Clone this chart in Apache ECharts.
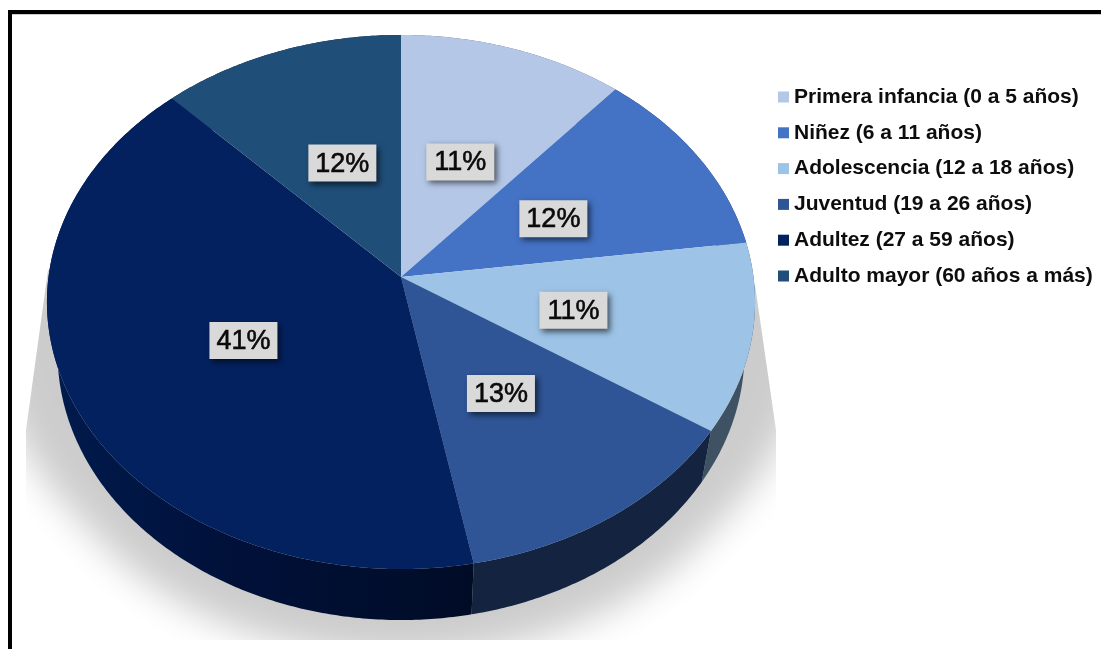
<!DOCTYPE html>
<html>
<head>
<meta charset="utf-8">
<style>html,body{margin:0;padding:0;background:#fff}#c{width:1101px;height:649px}</style>
<script src="https://cdn.jsdelivr.net/npm/echarts@6/dist/echarts.min.js"></script>
</head>
<body>
<div id="c"></div>
<script>
const categories = ['Primera infancia (0 a 5 años)','Niñez (6 a 11 años)','Adolescencia (12 a 18 años)','Juventud (19 a 26 años)','Adultez (27 a 59 años)','Adulto mayor (60 años a más)'];
const values = [11.3, 11.6, 11.4, 12.7, 40.8, 12.2];
const topColors = ['#B4C7E7','#4472C4','#9DC3E6','#2F5597','#03215F','#1F4E79'];
const sideColors = ['#5a6473','#22395f','#3F5263','#14233F','#000F2E','#0f2740'];

const total = values.reduce((a,b)=>a+b,0);
const CX=401, CY=277, A=352.5, B=264.7, P=0.0936, DEPTH=51, SHRINK=0.97;
const labelNudge = [[3,-1],[4,2],[-3,3],[-6,-3],[6,0],[2,-1]];
function proj(t, f, dy, sx){
  const w = 1 + P*Math.cos(t);
  return [CX + (sx||1)*f*A*Math.sin(t)/w, CY - f*B*Math.cos(t)/w + (dy||0)];
}
function arc(a,b,dy,sx){
  const n = Math.max(2,Math.ceil((b-a)/0.01)), pts=[];
  for(let i=0;i<=n;i++) pts.push(proj(a+(b-a)*i/n,1,dy,sx));
  return pts;
}
function startOf(i){ let s=0; for(let k=0;k<i;k++) s+=values[k]; return s/total*2*Math.PI; }

function renderSlice(i){
  return function(params, api){
    const a = startOf(i), b = a + api.value(0)/total*2*Math.PI, mid=(a+b)/2;
    const top = arc(a,b);
    const side = top.concat(arc(a,b,DEPTH,SHRINK).reverse());
    const lp0 = proj(mid,0.5), lp=[lp0[0]+labelNudge[i][0],lp0[1]+labelNudge[i][1]];
    const txt = Math.round(api.value(0))+'%';
    const children = [];
    let sideFill = sideColors[i];
    if(i===4) sideFill = {type:'linear',global:true,x:50,y:0,x2:480,y2:0,colorStops:[{offset:0,color:'#001B4D'},{offset:0.45,color:'#001038'},{offset:1,color:'#000C26'}]};
    children.push({type:'polygon',z2:1,shape:{points:side},style:{fill:sideFill}});
    children.push({type:'polygon',z2:2,shape:{points:[[CX,CY]].concat(top)},style:{fill:topColors[i]}});
    children.push({type:'rect',z2:3,shape:{x:lp[0]-34,y:lp[1]-18.5,width:68,height:37},
      style:{fill:'#D9D9D9',shadowBlur:6,shadowOffsetX:3,shadowOffsetY:3,shadowColor:'rgba(0,0,0,0.6)'}});
    children.push({type:'text',z2:4,x:lp[0],y:lp[1]+1,
      style:{text:txt,fill:'#0a0a0a',stroke:'#0a0a0a',lineWidth:0.6,font:'27px "Liberation Sans", Arial, sans-serif',align:'center',verticalAlign:'middle'}});
    return {type:'group',children};
  };
}
function renderShadow(){
  const OFF=3000, pts=[];
  for(let t=0;t<2*Math.PI;t+=0.01){
    const s = 1.03 + 0.2*Math.max(0,Math.cos(t)+0.6);
    const p = proj(t,1,88,s);
    pts.push([p[0]-OFF,p[1]]);
  }
  return {type:'polygon',z2:0,shape:{points:pts},
    style:{fill:'#000',shadowBlur:36,shadowOffsetX:OFF,shadowColor:'rgba(0,0,0,0.2)'},
    clipPath:{type:'polygon',shape:{points:[[48,270],[26,430],[26,640],[776,640],[776,430],[755,285]]}}};
}
const series = categories.map((n,i)=>({
  type:'custom',name:n,coordinateSystem:'none',silent:true,animation:false,
  itemStyle:{color:topColors[i]},data:[[values[i]]],renderItem:renderSlice(i)
}));
series.unshift({type:'custom',name:'sombra',coordinateSystem:'none',silent:true,animation:false,data:[[0]],renderItem:renderShadow});

const chart = echarts.init(document.getElementById('c'),null,{renderer:'canvas'});
chart.setOption({
  animation:false,
  backgroundColor:'#fff',
  legend:{data:categories,orient:'vertical',left:778,top:86.5,icon:'rect',itemWidth:11,itemHeight:11,itemGap:14.8,
    selectedMode:false,padding:0,
    textStyle:{color:'#0d0d0d',fontFamily:'"Liberation Sans", Arial, sans-serif',fontWeight:'bold',fontSize:21}},
  graphic:[
    {type:'rect',z:100,shape:{x:8,y:14,width:1093,height:1},style:{fill:'#cccccc'}},
    {type:'rect',z:100,shape:{x:8,y:10,width:1093,height:4},style:{fill:'#000'}},
    {type:'rect',z:100,shape:{x:8,y:10,width:4,height:639},style:{fill:'#000'}}
  ],
  series
});
</script>
</body>
</html>
